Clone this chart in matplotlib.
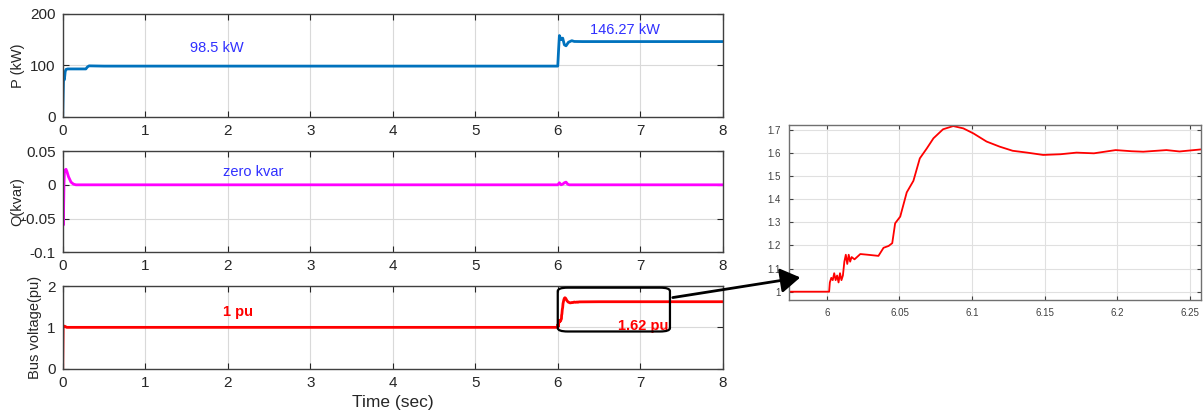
import matplotlib.pyplot as plt
from matplotlib.patches import FancyBboxPatch, FancyArrowPatch

plt.rcParams['font.family'] = ['Liberation Sans', 'DejaVu Sans']

# Active power (kW)
p_time = [0, 0.005, 0.01, 0.02, 0.03, 0.04, 0.06, 0.1, 0.28, 0.3, 0.32, 0.5,
          6.0, 6.01, 6.02, 6.04, 6.06, 6.08, 6.1, 6.13, 6.17, 6.2, 6.3, 8.0]
p_kw = [0, 40, 75, 72, 88, 92, 93, 93, 93, 97, 99, 98.5,
        98.5, 130, 158, 150, 153, 140, 138, 145, 148, 146.5, 146.27, 146.27]

# Reactive power (kvar), middle panel
q_time = [0, 0.005, 0.01, 0.015, 0.02, 0.03, 0.04, 0.05, 0.07, 0.1, 0.13, 0.16, 0.2,
          6.0, 6.02, 6.04, 6.06, 6.08, 6.1, 6.12, 6.14, 8.0]
q_kvar = [0, -0.06, -0.04, 0.0, 0.018, 0.022, 0.023, 0.02, 0.012, 0.004, 0.001, 0.0, 0.0,
          0.0, 0.003, 0.0, 0.001, 0.003, 0.004, 0.001, 0.0, 0.0]

# Bus voltage (pu) around the step at 6 s
v_time = [5.97, 6.0, 6.0015, 6.002, 6.003, 6.004, 6.005, 6.006, 6.007, 6.008,
          6.009, 6.010, 6.011, 6.012, 6.013, 6.014, 6.015, 6.016, 6.017, 6.019,
          6.023, 6.028, 6.0355, 6.039, 6.0425, 6.045, 6.047, 6.0505, 6.055, 6.0596,
          6.064, 6.0688, 6.0734, 6.080, 6.087, 6.094, 6.101, 6.110, 6.119, 6.128,
          6.138, 6.149, 6.161, 6.172, 6.184, 6.199, 6.210, 6.218, 6.234, 6.243, 6.258]
v_pu = [1.0, 1.0, 1.0, 1.04, 1.06, 1.05, 1.08, 1.05, 1.07, 1.04,
        1.08, 1.05, 1.07, 1.13, 1.16, 1.12, 1.16, 1.13, 1.15, 1.14,
        1.163, 1.16, 1.155, 1.19, 1.198, 1.21, 1.296, 1.325, 1.43, 1.48,
        1.577, 1.62, 1.664, 1.703, 1.717, 1.707, 1.685, 1.65, 1.628, 1.61,
        1.602, 1.592, 1.595, 1.602, 1.599, 1.613, 1.608, 1.606, 1.613, 1.607, 1.616]

# Whole bus voltage trace for the bottom panel
vb_time = [0, 0.005, 0.02, 0.05] + v_time + [6.5, 8.0]
vb_pu = [0, 1.0, 1.03, 1.0] + v_pu + [1.62, 1.62]

tick_color = '#262626'
frame_color = '#404040'

fig = plt.figure(figsize=(12.04, 4.15), dpi=100)

ax_p = fig.add_axes([0.0521, 0.7188, 0.5482, 0.2475])
ax_q = fig.add_axes([0.0521, 0.392, 0.5482, 0.244])
ax_v = fig.add_axes([0.0521, 0.1116, 0.5482, 0.1992])
ax_z = fig.add_axes([0.6555, 0.2771, 0.3420, 0.4217])

for ax in (ax_p, ax_q, ax_v):
    ax.set_xlim(0, 8)
    ax.set_xticks(range(9))
    ax.grid(True, color='#d9d9d9', linewidth=0.8)
    ax.tick_params(direction='in', labelsize=11, colors=tick_color, length=4,
                   top=True, right=True, pad=5)
    for s in ax.spines.values():
        s.set_color(frame_color)
        s.set_linewidth(1.0)

ax_p.plot(p_time, p_kw, color='#0072BD', linewidth=2)
ax_p.set_ylim(0, 200)
ax_p.set_yticks([0, 100, 200])
ax_p.set_ylabel('P (kW)', fontsize=10.5, color=tick_color)
ax_p.text(1.87, 134, '98.5 kW', color='#3030ff', fontsize=10.5, ha='center', va='center')
ax_p.text(6.82, 168, '146.27 kW', color='#3030ff', fontsize=10.5, ha='center', va='center')

ax_q.plot(q_time, q_kvar, color='#ff00ff', linewidth=2)
ax_q.set_ylim(-0.1, 0.05)
ax_q.set_yticks([-0.1, -0.05, 0, 0.05])
ax_q.set_yticklabels(['-0.1', '-0.05', '0', '0.05'])
ax_q.set_ylabel('Q(kvar)', fontsize=10.5, color=tick_color, labelpad=-2)
ax_q.text(2.31, 0.019, 'zero kvar', color='#3030ff', fontsize=10.5, ha='center', va='center')

ax_v.plot(vb_time, vb_pu, color='red', linewidth=2)
ax_v.set_ylim(0, 2)
ax_v.set_yticks([0, 1, 2])
ax_v.set_ylabel('Bus voltage(pu)', fontsize=10.5, color=tick_color)
ax_v.set_xlabel('Time (sec)', fontsize=12.5, color=tick_color, labelpad=4)
ax_v.text(2.13, 1.37, '1 pu', color='red', fontsize=10.5, fontweight='bold',
          ha='center', va='center')
ax_v.text(7.04, 1.03, '1.62 pu', color='red', fontsize=10.5, fontweight='bold',
          ha='center', va='center')

# rounded box around the step, arrow pointing to the zoom
box = FancyBboxPatch((6.0, 0.9), 1.36, 1.06, boxstyle='round,pad=0,rounding_size=0.12',
                     mutation_aspect=0.7, fill=False, edgecolor='black', linewidth=1.6,
                     transform=ax_v.transData, clip_on=False, zorder=5)
ax_v.add_patch(box)
arrow = FancyArrowPatch((670, 415 - 298), (803, 415 - 277), transform=None,
                        arrowstyle='-|>,head_length=8,head_width=5', color='black',
                        linewidth=2, mutation_scale=1.5)
fig.patches.append(arrow)

ax_z.plot(v_time, v_pu, color='red', linewidth=1.3)
ax_z.set_xlim(5.974, 6.2578)
ax_z.set_ylim(0.964, 1.7216)
ax_z.set_xticks([6, 6.05, 6.1, 6.15, 6.2, 6.25])
ax_z.set_xticklabels(['6', '6.05', '6.1', '6.15', '6.2', '6.25'])
ax_z.set_yticks([1, 1.1, 1.2, 1.3, 1.4, 1.5, 1.6, 1.7])
ax_z.set_yticklabels(['1', '1.1', '1.2', '1.3', '1.4', '1.5', '1.6', '1.7'])
ax_z.grid(True, color='#e0e0e0', linewidth=0.8)
ax_z.tick_params(direction='in', labelsize=7, colors='#404040', length=3,
                 top=True, right=True, pad=6)
for s in ax_z.spines.values():
    s.set_color('#707070')
    s.set_linewidth(1.0)

fig.savefig('out.png', dpi=100)
